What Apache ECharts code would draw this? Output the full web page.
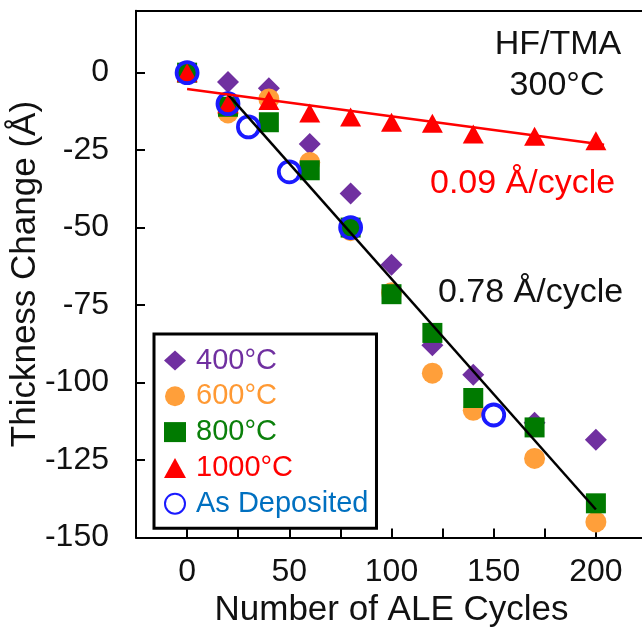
<!DOCTYPE html>
<html>
<head>
<meta charset="utf-8">
<script src="https://cdn.jsdelivr.net/npm/echarts@6/dist/echarts.min.js"></script>
<style>
  html, body { margin: 0; padding: 0; background: #fff; }
  #main { width: 642px; height: 633px; }
</style>
</head>
<body>
<div id="main"></div>
<script>
var font = '"Liberation Sans", Arial, sans-serif'

// ALE cycles and thickness change (Å) per anneal temperature
var cycles = [0, 20, 40, 60, 80, 100, 120, 140, 170, 200]
var t400 = [0, -3, -5, -23, -39, -62, -88, -97.5, -113, -118.5]
var t600 = [0, -13, -8.5, -29, -51, -71, -97, -109, -124.5, -145]
var t800 = [0, -11, -16, -31.5, -50, -71.5, -84, -105, -114.5, -139]
var t1000 = [0, -10, -9, -13, -14.3, -16, -16.3, -19.8, -20.5, -22]

var depCycles = [0, 20, 30, 50, 80, 150]
var depValues = [0, -10, -17.5, -32, -50, -110.5]

// linear fits
var fitFastX = [20, 200]
var fitFastY = [-7, -141]
var fitSlowX = [0, 204]
var fitSlowY = [-5.3, -23.3]

var names = ['400°C', '600°C', '800°C', '1000°C', 'As Deposited']
var textColors = ['#7030a0', '#ff9933', '#0b800b', '#ff0000', '#0070c0']

var xTicks = [0, 50, 100, 150, 200]

let pairs = function(xs, ys) {
    return xs.map(function(x, i) { return [x, ys[i]] })
}

var myChart = echarts.init(document.getElementById('main'))

let axisText = { color: '#111', fontFamily: font }

option = {
    backgroundColor: '#fff',
    animation: false,
    grid: {
        left: 136,
        top: 10.7,
        width: 511,
        height: 526.7,
        outerBoundsMode: 'none',
        containLabel: false,
        show: false
    },
    xAxis: [
        {
            type: 'value',
            min: -25,
            max: 225,
            interval: 25,
            splitLine: { show: false },
            axisLine: { onZero: false, lineStyle: { color: '#000', width: 2 } },
            axisTick: { inside: true, length: 9, lineStyle: { color: '#000', width: 2 } },
            axisLabel: Object.assign({
                margin: 19,
                fontSize: 32,
                formatter: function(v) { return xTicks.indexOf(v) >= 0 ? String(v) : '' }
            }, axisText),
            name: 'Number of ALE Cycles',
            nameLocation: 'middle',
            nameGap: 55,
            nameMoveOverlap: false,
            nameTextStyle: Object.assign({ fontSize: 35 }, axisText)
        },
        {
            // top frame line only
            type: 'value',
            position: 'top',
            min: -25,
            max: 225,
            interval: 25,
            splitLine: { show: false },
            axisLine: { onZero: false, lineStyle: { color: '#000', width: 2 } },
            axisTick: { show: false },
            axisLabel: { show: false }
        }
    ],
    yAxis: {
        type: 'value',
        min: -150,
        max: 20,
        interval: 25,
        splitLine: { show: false },
        axisLine: { onZero: false, lineStyle: { color: '#000', width: 2 } },
        axisTick: { inside: true, length: 9, lineStyle: { color: '#000', width: 2 } },
        axisLabel: Object.assign({
            margin: 27,
            fontSize: 32,
            showMaxLabel: false,
            formatter: function(v) { return v > 0 ? '' : String(v) }
        }, axisText),
        name: 'Thickness Change (Å)',
        nameLocation: 'middle',
        nameRotate: 90,
        nameGap: 93,
        nameMoveOverlap: false,
        nameTextStyle: Object.assign({ fontSize: 35 }, axisText)
    },
    legend: {
        orient: 'vertical',
        left: 154,
        top: 334,
        padding: [12, 8, 10, 10],
        itemGap: 6.8,
        itemWidth: 22,
        itemHeight: 20,
        borderColor: '#000',
        borderWidth: 3,
        backgroundColor: '#fff',
        textStyle: { fontSize: 29, fontFamily: font, padding: [0, 0, 0, 5], lineHeight: 28 },
        data: names.map(function(n, i) {
            return { name: n, textStyle: { color: textColors[i] } }
        })
    },
    series: [
        {
            name: names[0], type: 'scatter', symbol: 'diamond', symbolSize: [22, 22],
            itemStyle: { color: '#7030a0', opacity: 1 },
            data: pairs(cycles, t400)
        },
        {
            name: names[1], type: 'scatter', symbol: 'circle', symbolSize: 21,
            itemStyle: { color: '#ff9f3a', opacity: 1 },
            data: pairs(cycles, t600)
        },
        {
            name: names[2], type: 'scatter', symbol: 'rect', symbolSize: 20,
            itemStyle: { color: '#007a00', opacity: 1 },
            data: pairs(cycles, t800)
        },
        {
            name: names[3], type: 'scatter', symbol: 'triangle', symbolSize: [21, 19],
            itemStyle: { color: '#ff0000', opacity: 1 },
            data: pairs(cycles, t1000)
        },
        {
            name: names[4], type: 'scatter', symbol: 'circle', symbolSize: 21,
            itemStyle: { color: 'rgba(255,255,255,0)', borderColor: '#1a1aff', borderWidth: 3.8, opacity: 1 },
            data: pairs(depCycles, depValues)
        },
        {
            type: 'line', symbol: 'none', silent: true, z: 5,
            lineStyle: { color: '#000', width: 2.5 },
            data: pairs(fitFastX, fitFastY)
        },
        {
            type: 'line', symbol: 'none', silent: true, z: 5,
            lineStyle: { color: '#ff0000', width: 2.5 },
            data: pairs(fitSlowX, fitSlowY)
        }
    ],
    graphic: [
        {
            type: 'text', x: 558, y: 28,
            style: { text: 'HF/TMA', fill: '#111', font: '34px ' + font, textAlign: 'center' }
        },
        {
            type: 'text', x: 557, y: 69,
            style: { text: '300°C', fill: '#111', font: '34px ' + font, textAlign: 'center' }
        },
        {
            type: 'text', x: 430, y: 167,
            style: { text: '0.09 Å/cycle', fill: '#ff0000', font: '34px ' + font }
        },
        {
            type: 'text', x: 438, y: 276,
            style: { text: '0.78 Å/cycle', fill: '#111', font: '34px ' + font }
        }
    ]
}

myChart.setOption(option)
</script>
</body>
</html>
